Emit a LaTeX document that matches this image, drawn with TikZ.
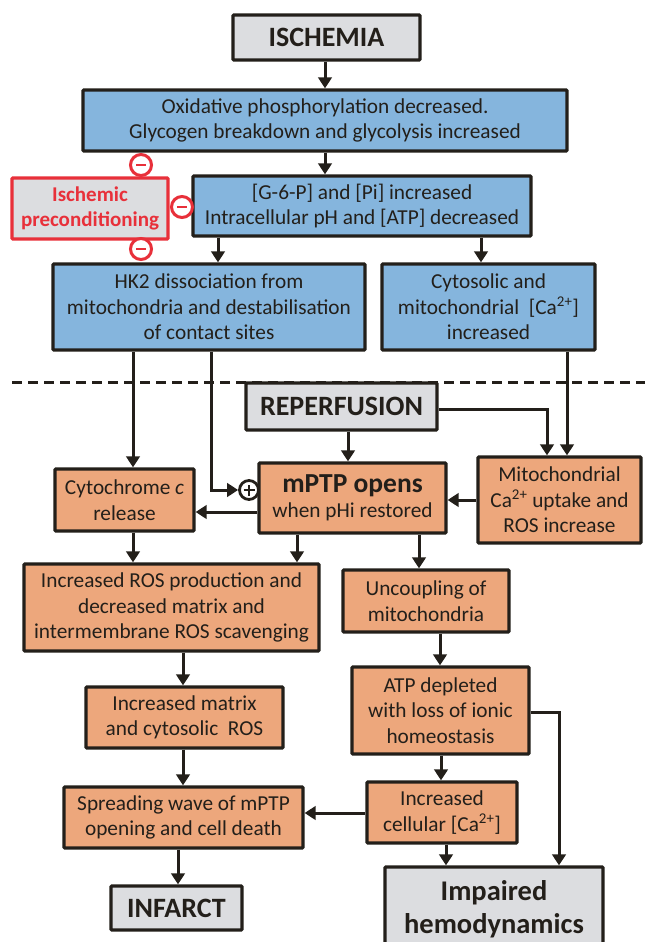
\documentclass[tikz,border=0pt]{standalone}
\usepackage{fontspec}
\setmainfont{Carlito}
\usetikzlibrary{arrows.meta}
\definecolor{ink}{HTML}{231F1A}
\definecolor{bluefill}{HTML}{85B5DD}
\definecolor{orangefill}{HTML}{EDA77C}
\definecolor{grayfill}{HTML}{DCDDE0}
\definecolor{redink}{HTML}{E8303A}
\begin{document}
\begin{tikzpicture}[x=1pt,y=-1pt,
  base/.style={draw=ink, line width=3.3pt, rounded corners=1pt, align=center, inner sep=0pt, text=ink, font=\fontsize{21.3}{25.5}\selectfont},
  bluebox/.style={base, fill=bluefill},
  orangebox/.style={base, fill=orangefill},
  graybox/.style={base, fill=grayfill, font=\fontsize{28}{33}\selectfont\bfseries},
  prebox/.style={base, draw=redink, fill=grayfill, text=redink, font=\fontsize{21}{25.5}\selectfont\bfseries},
  arr/.style={draw=ink, line width=3pt, -{Triangle[width=13.5pt,length=11pt]}},
  minusc/.style={circle, draw=redink, fill=white, line width=3pt, minimum size=21pt, inner sep=0pt},
  plusc/.style={circle, draw=ink, fill=white, line width=2.8pt, minimum size=19pt, inner sep=0pt},
  dashline/.style={draw=ink, line width=3pt, dash pattern=on 10pt off 6pt},
]
\useasboundingbox (0,0) rectangle (645,942);
\fill[white] (0,0) rectangle (645,942);

\draw[dashline] (12,382) -- (645,382);

% nodes
\node[graybox, minimum width=187pt, minimum height=45pt] (isch) at (326.5,37.5) {ISCHEMIA};
\node[bluebox, minimum width=484pt, minimum height=61pt] (oxi) at (325,120.5) {Oxidative phosphorylation decreased.\\Glycogen breakdown and glycolysis increased};
\node[bluebox, minimum width=338pt, minimum height=60pt] (g6p) at (362,206) {[G-6-P] and [Pi] increased\\Intracellular pH and [ATP] decreased};
\node[prebox, minimum width=156pt, minimum height=61pt] (pre) at (90,208.5) {Ischemic\\preconditioning};
\node[bluebox, minimum width=312pt, minimum height=86pt] (hk2) at (209,307) {HK2 dissociation from\\mitochondria and destabilisation\\of contact sites};
\node[bluebox, minimum width=213pt, minimum height=86pt] (cyto) at (488.5,307) {Cytosolic and\\mitochondrial\ \ [Ca\textsuperscript{2+}]\\increased};
\node[graybox, minimum width=191pt, minimum height=47pt] (rep) at (341.5,406.5) {REPERFUSION};
\node[orangebox, minimum width=187pt, minimum height=70pt] (mptp) at (352.5,498) {{\fontsize{27.5}{31}\selectfont\bfseries mPTP opens}\\when pHi restored};
\node[orangebox, minimum width=139pt, minimum height=62pt] (cytc) at (124.5,500) {Cytochrome \textit{c}\\release};
\node[orangebox, minimum width=163pt, minimum height=86pt] (mito) at (559.5,500) {Mitochondrial\\Ca\textsuperscript{2+} uptake and\\ROS increase};
\node[orangebox, minimum width=295pt, minimum height=87pt] (ros) at (171.5,607.5) {Increased ROS production and\\decreased matrix and\\intermembrane ROS scavenging};
\node[orangebox, minimum width=166pt, minimum height=62pt] (unc) at (426,601) {Uncoupling of\\mitochondria};
\node[orangebox, minimum width=197pt, minimum height=61pt] (mat) at (184.5,717.5) {Increased matrix\\and cytosolic\ \ ROS};
\node[orangebox, minimum width=177pt, minimum height=87pt] (atp) at (440.5,710.5) {ATP depleted\\with loss of ionic\\homeostasis};
\node[orangebox, minimum width=239pt, minimum height=61pt] (spr) at (183.5,817.5) {Spreading wave of mPTP\\opening and cell death};
\node[orangebox, minimum width=150pt, minimum height=61pt] (cal) at (442,812.5) {Increased\\cellular [Ca\textsuperscript{2+}]};
\node[graybox, minimum width=131pt, minimum height=44pt] (inf) at (176.5,908) {INFARCT};
\node[graybox, minimum width=218pt, minimum height=85pt, font=\fontsize{28.5}{33}\selectfont\bfseries] (imp) at (494,909.5) {Impaired\\hemodynamics};

% minus circles
\foreach \n/\p in {m1/{(141,165)}, m2/{(182,207)}, m3/{(141,249)}} {
  \node[minusc] (\n) at \p {};
  \draw[redink, line width=2.8pt] ([xshift=-5pt]\n.center) -- ([xshift=5pt]\n.center);
}
% plus circle
\node[plusc] (plus) at (249,490) {};
\draw[ink, line width=2.4pt] ([xshift=-5.5pt]plus.center) -- ([xshift=5.5pt]plus.center)
  ([yshift=-5.5pt]plus.center) -- ([yshift=5.5pt]plus.center);

% connectors
\draw[arr] (isch.south -| 325,0) -- (oxi.north -| 325,0);
\draw[arr] (oxi.south -| 325,0) -- (g6p.north -| 325,0);
\draw[arr] (g6p.south -| 218,0) -- (hk2.north -| 218,0);
\draw[arr] (g6p.south -| 481,0) -- (cyto.north -| 481,0);
\draw[arr] (hk2.south -| 133,0) -- (cytc.north -| 133,0);
\draw[arr] (hk2.south -| 211,0) |- (plus.west);
\draw[arr] (cyto.south -| 567,0) -- (mito.north -| 567,0);
\draw[arr] (rep.east |- 0,409) -| (mito.north -| 547,0);
\draw[arr] (rep.south -| 348,0) -- (mptp.north -| 348,0);
\draw[arr] (mito.west) -- (mptp.east |- mito.west);
\draw[arr] (mptp.west |- 0,512) -- (cytc.east |- 0,512);
\draw[arr] (cytc.south -| 133,0) -- (ros.north -| 133,0);
\draw[arr] (mptp.south -| 297,0) -- (ros.north -| 297,0);
\draw[arr] (mptp.south -| 419,0) -- (unc.north -| 419,0);
\draw[arr] (ros.south -| 183,0) -- (mat.north -| 183,0);
\draw[arr] (unc.south -| 440,0) -- (atp.north -| 440,0);
\draw[arr] (mat.south -| 183,0) -- (spr.north -| 183,0);
\draw[arr] (atp.south -| 441,0) -- (cal.north -| 441,0);
\draw[arr] (atp.east |- 0,712) -| (imp.north -| 559,0);
\draw[arr] (cal.west |- 0,813) -- (spr.east |- 0,813);
\draw[arr] (cal.south -| 446,0) -- (imp.north -| 446,0);
\draw[arr] (spr.south -| 178,0) -- (inf.north -| 178,0);
\end{tikzpicture}
\end{document}
